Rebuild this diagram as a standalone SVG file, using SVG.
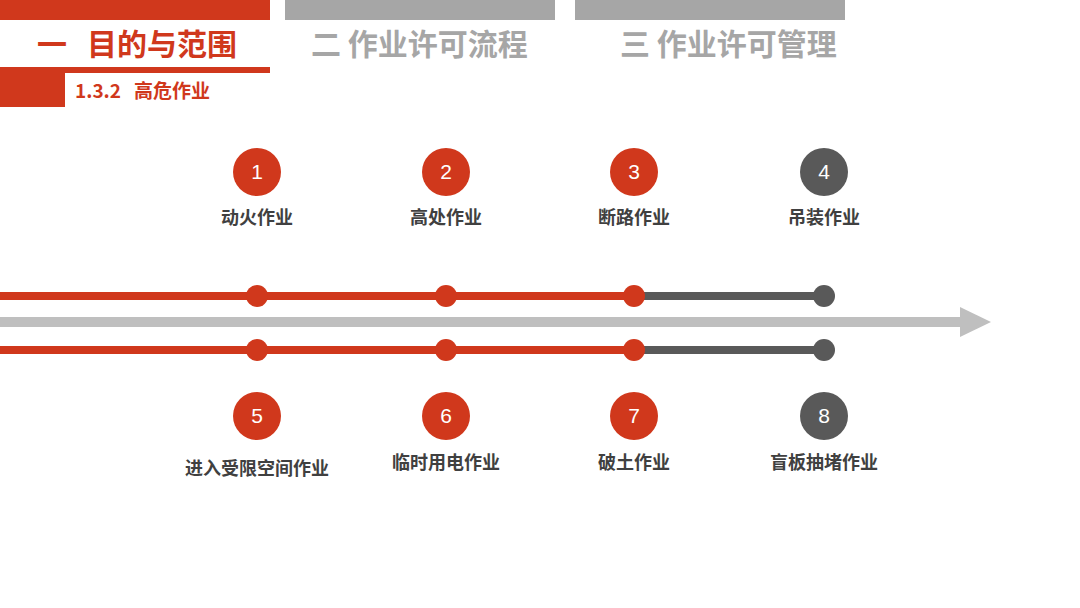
<svg xmlns="http://www.w3.org/2000/svg" width="1080" height="608" viewBox="0 0 1080 608">
<style>
.tab{font-family:"Noto Sans CJK SC","Noto Sans",sans-serif;font-weight:bold;font-size:30px}
.num{font-family:"Liberation Sans","Noto Sans",sans-serif;font-size:21px;fill:#fff;text-anchor:middle}
.lbl{font-family:"Noto Sans CJK SC",sans-serif;font-weight:bold;font-size:18px;fill:#404040;text-anchor:middle}
.red{fill:#d0381c}
.dk{fill:#595959}
</style>
<rect width="1080" height="608" fill="#fff"/>
<g id="header">
<rect x="0" y="0" width="270" height="20" class="red"/>
<rect x="285" y="0" width="270" height="20" fill="#a6a6a6"/>
<rect x="575" y="0" width="270" height="20" fill="#a6a6a6"/>
<text x="37" y="55" class="tab" fill="#d0381c">一<tspan x="87">目的与范围</tspan></text>
<text x="311" y="55" class="tab" fill="#a6a6a6">二 作业许可流程</text>
<text x="620" y="55" class="tab" fill="#a6a6a6">三 作业许可管理</text>
<rect x="0" y="67" width="270" height="6" class="red"/>
<rect x="0" y="73" width="65" height="34" class="red"/>
<text x="75" y="98" font-family="Noto Sans CJK SC,sans-serif" font-weight="bold" font-size="19" fill="#d0381c">1.3.2<tspan x="134">高危作业</tspan></text>
</g>
<g id="connectors">
<rect x="0" y="292" width="634" height="8" class="red"/>
<rect x="634" y="292" width="190" height="8" class="dk"/>
<rect x="0" y="346" width="634" height="8" class="red"/>
<rect x="634" y="346" width="190" height="8" class="dk"/>
<rect x="0" y="317" width="962" height="10" fill="#bfbfbf"/>
<polygon points="960,307 991,322 960,337" fill="#bfbfbf"/>
<circle cx="257" cy="296" r="11" class="red"/>
<circle cx="446" cy="296" r="11" class="red"/>
<circle cx="634" cy="296" r="11" class="red"/>
<circle cx="824" cy="296" r="11" class="dk"/>
<circle cx="257" cy="350" r="11" class="red"/>
<circle cx="446" cy="350" r="11" class="red"/>
<circle cx="634" cy="350" r="11" class="red"/>
<circle cx="824" cy="350" r="11" class="dk"/>
</g>
<g id="n1"><circle cx="257" cy="172" r="24" class="red"/><text x="257" y="179" class="num">1</text><text x="257" y="224" class="lbl">动火作业</text></g>
<g id="n2"><circle cx="446" cy="172" r="24" class="red"/><text x="446" y="179" class="num">2</text><text x="446" y="224" class="lbl">高处作业</text></g>
<g id="n3"><circle cx="634" cy="172" r="24" class="red"/><text x="634" y="179" class="num">3</text><text x="634" y="224" class="lbl">断路作业</text></g>
<g id="n4"><circle cx="824" cy="172" r="24" class="dk"/><text x="824" y="179" class="num">4</text><text x="824" y="224" class="lbl">吊装作业</text></g>
<g id="n5"><circle cx="257" cy="416" r="24" class="red"/><text x="257" y="423" class="num">5</text><text x="257" y="475" class="lbl">进入受限空间作业</text></g>
<g id="n6"><circle cx="446" cy="416" r="24" class="red"/><text x="446" y="423" class="num">6</text><text x="446" y="469" class="lbl">临时用电作业</text></g>
<g id="n7"><circle cx="634" cy="416" r="24" class="red"/><text x="634" y="423" class="num">7</text><text x="634" y="469" class="lbl">破土作业</text></g>
<g id="n8"><circle cx="824" cy="416" r="24" class="dk"/><text x="824" y="423" class="num">8</text><text x="824" y="469" class="lbl">盲板抽堵作业</text></g>
</svg>
